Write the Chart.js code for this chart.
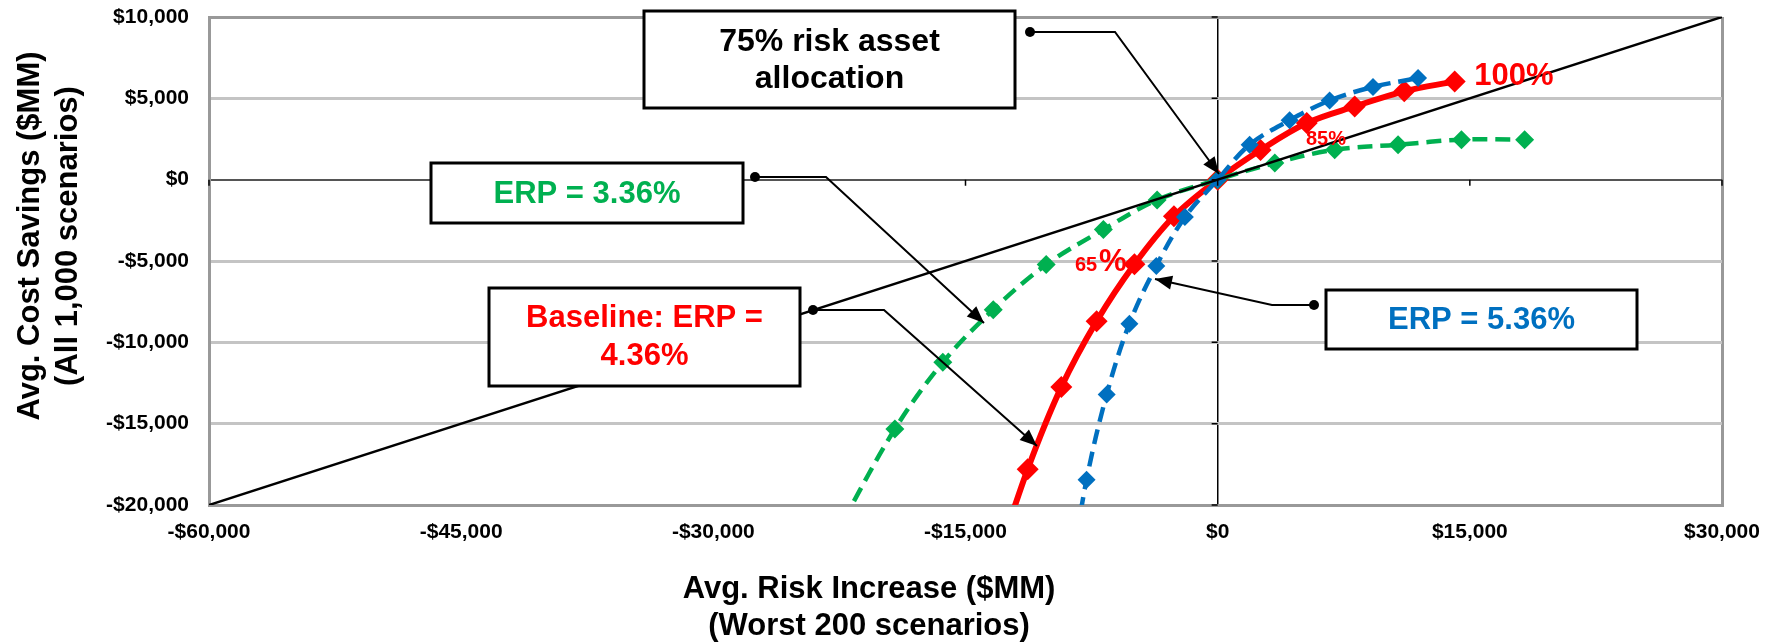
<!DOCTYPE html>
<html lang="en">
<head>
  <meta charset="UTF-8" />
  <title>Risk vs Cost Savings</title>
  <script src="https://cdn.jsdelivr.net/npm/chart.js"></script>
  <style>
    html, body { margin: 0; padding: 0; background: #fff; }
    #wrap { width: 1779px; height: 644px; }
  </style>
</head>
<body>
  <div id="wrap"><canvas id="chart" width="1779" height="644"></canvas></div>

  <script>
    // Values ($MM). First point of each curve lies below the axis floor.
    const redX   = [-13200, -11300, -9300, -7200, -4950, -2600, 0, 2550, 5300, 8150, 11100, 14100];
    const redY   = [-23600, -17800, -12750, -8700, -5200, -2250, 0, 1820, 3480, 4500, 5430, 6040];

    const blueX  = [-8800, -7800, -6600, -5250, -3650, -1950, 0, 1900, 4280, 6660, 9240, 11920];
    const blueY  = [-24600, -18450, -13200, -8850, -5300, -2300, 0, 2150, 3650, 4870, 5700, 6250];

    const greenX = [-22300, -19200, -16350, -13350, -10200, -6800, -3600, 0, 3400, 6960, 10730, 14500, 18260];
    const greenY = [-21000, -15330, -11230, -7990, -5220, -3070, -1250, 0, 1020, 1840, 2150, 2460, 2460];

    // break-even diagonal
    const diagX = [-60000, 30000];
    const diagY = [-20000, 10000];

    // axis ticks
    const xTicks = [-60000, -45000, -30000, -15000, 0, 15000, 30000];
    const yTicks = [-20000, -15000, -10000, -5000, 0, 5000, 10000];

    const FONT = '"Liberation Sans", Arial, sans-serif';
    const RED = '#ff0000', BLUE = '#0070c0', GREEN = '#00b050';

    function pts(xs, ys) {
      return xs.map((x, i) => ({ x: x, y: ys[i] }));
    }

    function money(v) {
      return (v < 0 ? '-$' : '$') + Math.abs(v).toLocaleString('en-US');
    }

    // text boxes, callouts and axis titles (canvas pixels)
    function drawBox(ctx, x1, y1, x2, y2) {
      ctx.fillStyle = '#fff';
      ctx.fillRect(x1, y1, x2 - x1, y2 - y1);
      ctx.lineWidth = 3;
      ctx.strokeStyle = '#000';
      ctx.strokeRect(x1, y1, x2 - x1, y2 - y1);
    }

    function drawCallout(ctx, path) {
      ctx.strokeStyle = '#000';
      ctx.fillStyle = '#000';
      ctx.lineWidth = 2;
      ctx.beginPath();
      ctx.moveTo(path[0][0], path[0][1]);
      for (let i = 1; i < path.length; i++) ctx.lineTo(path[i][0], path[i][1]);
      ctx.stroke();
      // dot at start
      ctx.beginPath();
      ctx.arc(path[0][0], path[0][1], 5, 0, Math.PI * 2);
      ctx.fill();
      // arrow head at end
      const [ax, ay] = path[path.length - 2];
      const [bx, by] = path[path.length - 1];
      const a = Math.atan2(by - ay, bx - ax);
      const len = 17, half = 7;
      ctx.beginPath();
      ctx.moveTo(bx, by);
      ctx.lineTo(bx - len * Math.cos(a) + half * Math.sin(a), by - len * Math.sin(a) - half * Math.cos(a));
      ctx.lineTo(bx - len * Math.cos(a) - half * Math.sin(a), by - len * Math.sin(a) + half * Math.cos(a));
      ctx.closePath();
      ctx.fill();
    }

    function text(ctx, str, x, y, size, color) {
      ctx.font = 'bold ' + size + 'px ' + FONT;
      ctx.fillStyle = color;
      ctx.textAlign = 'center';
      ctx.textBaseline = 'middle';
      ctx.fillText(str, x, y);
    }

    const decorations = {
      id: 'decorations',
      afterDatasetsDraw(chart) {
        const ctx = chart.ctx;
        const xs = chart.scales.x, ys = chart.scales.y;
        const x0 = xs.getPixelForValue(0), y0 = ys.getPixelForValue(0);

        // little tick marks on the zero axes
        ctx.save();
        ctx.strokeStyle = '#000';
        ctx.lineWidth = 1.5;
        ctx.beginPath();
        yTicks.forEach(v => {
          const py = ys.getPixelForValue(v);
          ctx.moveTo(x0 - 6, py); ctx.lineTo(x0, py);
        });
        xTicks.forEach(v => {
          const px = xs.getPixelForValue(v);
          ctx.moveTo(px, y0); ctx.lineTo(px, y0 + 6);
        });
        ctx.stroke();

        // callouts
        drawCallout(ctx, [[1030, 32], [1115, 32], [1219, 174]]);
        drawCallout(ctx, [[755, 177], [826, 177], [984, 323]]);
        drawCallout(ctx, [[813, 310], [884, 310], [1037, 446]]);
        drawCallout(ctx, [[1314, 305], [1272, 305], [1155, 279]]);

        // boxes
        drawBox(ctx, 644, 11, 1015, 108);
        text(ctx, '75% risk asset', 829.5, 42, 32, '#000');
        text(ctx, 'allocation', 829.5, 79, 32, '#000');

        drawBox(ctx, 431, 163, 743, 223);
        text(ctx, 'ERP = 3.36%', 587, 194, 31, GREEN);

        drawBox(ctx, 489, 288, 800, 386);
        text(ctx, 'Baseline: ERP =', 644.5, 318, 31, RED);
        text(ctx, '4.36%', 644.5, 356, 31, RED);

        drawBox(ctx, 1326, 290, 1637, 349);
        text(ctx, 'ERP = 5.36%', 1481.5, 320, 31, BLUE);

        // point labels
        text(ctx, '100%', 1514, 76, 31, RED);
        text(ctx, '85%', 1326, 139, 20, RED);
        ctx.font = 'bold 20px ' + FONT;
        ctx.fillStyle = RED;
        ctx.textAlign = 'left';
        ctx.textBaseline = 'alphabetic';
        ctx.fillText('65', 1075, 271);
        ctx.font = 'bold 31px ' + FONT;
        ctx.fillText('%', 1099, 271);

        // axis titles
        text(ctx, 'Avg. Risk Increase ($MM)', 869, 589, 31, '#000');
        text(ctx, '(Worst 200 scenarios)', 869, 626, 31, '#000');
        ctx.translate(30, 236);
        ctx.rotate(-Math.PI / 2);
        text(ctx, 'Avg. Cost Savings ($MM)', 0, 0, 31, '#000');
        text(ctx, '(All 1,000 scenarios)', 0, 38, 31, '#000');
        ctx.restore();
      }
    };

    new Chart(document.getElementById('chart'), {
      type: 'scatter',
      data: {
        datasets: [
          {
            label: 'Break-even',
            data: pts(diagX, diagY),
            showLine: true,
            borderColor: '#000',
            borderWidth: 2.5,
            pointRadius: 0,
            clip: 0
          },
          {
            label: 'ERP = 5.36%',
            data: pts(blueX, blueY),
            showLine: true,
            borderColor: BLUE,
            backgroundColor: BLUE,
            borderWidth: 4.5,
            borderDash: [15, 8],
            tension: 0.35,
            pointStyle: 'rectRot',
            pointRadius: 9,
            pointBorderWidth: 0,
            clip: 0
          },
          {
            label: 'ERP = 3.36%',
            data: pts(greenX, greenY),
            showLine: true,
            borderColor: GREEN,
            backgroundColor: GREEN,
            borderWidth: 4.5,
            borderDash: [15, 8],
            tension: 0.35,
            pointStyle: 'rectRot',
            pointRadius: 9.5,
            pointBorderWidth: 0,
            clip: 0
          },
          {
            label: 'Baseline: ERP = 4.36%',
            data: pts(redX, redY),
            showLine: true,
            borderColor: RED,
            backgroundColor: RED,
            borderWidth: 6,
            tension: 0.35,
            pointStyle: 'rectRot',
            pointRadius: 11,
            pointBorderWidth: 0,
            clip: 0
          }
        ]
      },
      options: {
        responsive: false,
        animation: false,
        devicePixelRatio: 1,
        layout: { padding: { top: 17, right: 57, left: 0, bottom: 0 } },
        plugins: {
          legend: { display: false },
          tooltip: { enabled: false }
        },
        scales: {
          x: {
            type: 'linear',
            min: -60000,
            max: 30000,
            afterBuildTicks: s => { s.ticks = xTicks.map(v => ({ value: v })); },
            afterFit: s => { s.height = 139; s.paddingLeft = 0; s.paddingRight = 0; },
            ticks: {
              callback: v => money(v),
              font: { family: FONT, size: 21, weight: 'bold' },
              color: '#000',
              padding: 15,
              maxRotation: 0,
              autoSkip: false
            },
            grid: {
              drawTicks: false,
              color: c => {
                const v = c.tick && c.tick.value;
                if (v === 0) return '#000';
                if (v === 30000) return '#999';
                return 'rgba(0,0,0,0)';
              },
              lineWidth: c => (c.tick && c.tick.value === 0 ? 1.5 : 3)
            },
            border: { color: '#999', width: 3 }
          },
          y: {
            type: 'linear',
            min: -20000,
            max: 10000,
            afterBuildTicks: s => { s.ticks = yTicks.map(v => ({ value: v })); },
            afterFit: s => { s.width = 209; s.paddingTop = 0; s.paddingBottom = 0; },
            ticks: {
              callback: v => money(v),
              font: { family: FONT, size: 21, weight: 'bold' },
              color: '#000',
              padding: 20,
              autoSkip: false
            },
            grid: {
              drawTicks: false,
              color: c => {
                const v = c.tick && c.tick.value;
                if (v === 0) return '#555';
                if (v === 10000) return '#999';
                return '#c4c4c4';
              },
              lineWidth: c => (c.tick && c.tick.value === 0 ? 2 : 3)
            },
            border: { color: '#999', width: 3 }
          }
        }
      },
      plugins: [decorations]
    });
  </script>
</body>
</html>
